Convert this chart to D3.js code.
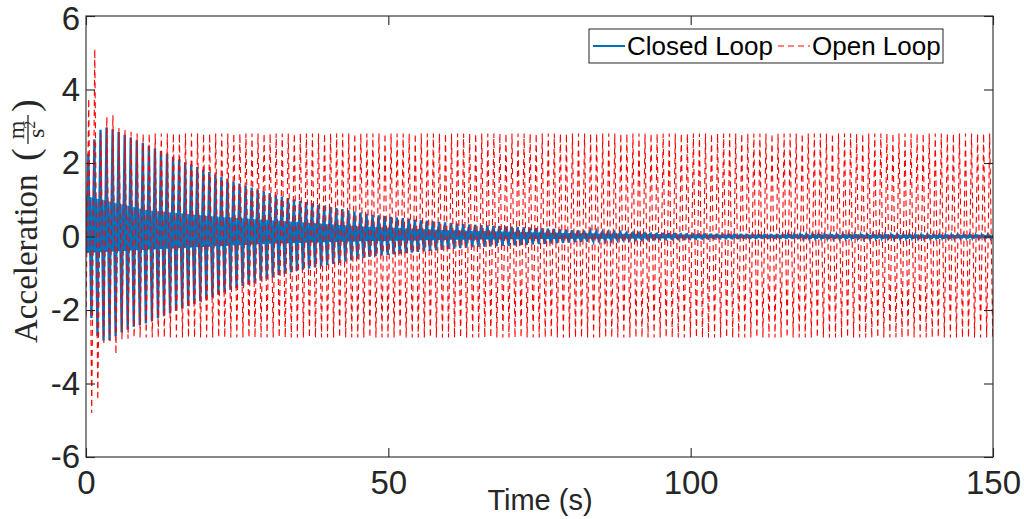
<!DOCTYPE html>
<html>
<head>
<meta charset="utf-8">
<script src="https://cdn.jsdelivr.net/npm/d3@7"></script>
<style>
  body { margin: 0; background: #fff; }
  svg { display: block; }
</style>
</head>
<body>
<svg id="chart" width="1024" height="519"></svg>
<script>
// ---- axis ticks ----
const xTicks = [0, 50, 100, 150];
const yTicks = [-6, -4, -2, 0, 2, 4, 6];
const seriesNames = ["Closed Loop", "Open Loop"];

// ---- closed loop: swing envelope (m/s^2) at sample times (s) ----
const closedEnvTime = [0, 1, 2, 3, 4, 6, 8, 10, 13, 16, 20, 24, 28, 32, 36, 40, 47, 55, 63, 70, 78, 85, 95, 110, 150];
const closedUpper   = [2.1, 2.5, 2.85, 2.98, 2.95, 2.8, 2.65, 2.5, 2.28, 2.05, 1.78, 1.52, 1.3, 1.1, 0.95, 0.82, 0.6, 0.45, 0.33, 0.27, 0.2, 0.13, 0.07, 0.04, 0.03];
const closedLower   = [-1.5, -2.3, -2.75, -2.84, -2.82, -2.6, -2.45, -2.36, -2.15, -1.95, -1.7, -1.45, -1.25, -1.05, -0.9, -0.78, -0.55, -0.42, -0.3, -0.25, -0.18, -0.12, -0.07, -0.04, -0.03];
// inner ripple band of the closed loop response
const closedCoreTime  = [0, 10, 20, 30, 45, 60, 80, 100, 150];
const closedCoreUpper = [1.1, 0.72, 0.56, 0.45, 0.28, 0.17, 0.09, 0.05, 0.03];
const closedCoreLower = [-0.45, -0.36, -0.28, -0.2, -0.13, -0.09, -0.06, -0.04, -0.03];

// ---- open loop: first swings, then the steady limit cycle ----
const openStart   = -2.2;
const openPeaks   = [3.75, 5.1, 2.8, 3.25, 3.3, 2.95, 2.9, 2.85];
const openTroughs = [-4.8, -4.45, -2.9, -2.85, -3.2, -2.8, -2.78];
const openSteady  = [2.8, -2.75];

const period = 1.0;        // oscillation period (s)
const tEnd = 150;

// ---- layout ----
const svg = d3.select("#chart");
const M = { left: 86, right: 993, top: 16, bottom: 457 };

const x = d3.scaleLinear().domain([0, 150]).range([M.left, M.right]);
const y = d3.scaleLinear().domain([-6, 6]).range([M.bottom, M.top]);

// envelopes as piecewise-linear scales
const envHi  = d3.scaleLinear().domain(closedEnvTime).range(closedUpper).clamp(true);
const envLo  = d3.scaleLinear().domain(closedEnvTime).range(closedLower).clamp(true);
const coreHi = d3.scaleLinear().domain(closedCoreTime).range(closedCoreUpper).clamp(true);
const coreLo = d3.scaleLinear().domain(closedCoreTime).range(closedCoreLower).clamp(true);

// closed loop vertices: swing high, ripple, swing low, ripple
const cycleShape = [
  [0.00, envHi],
  [0.16, coreLo],
  [0.24, coreHi],
  [0.32, coreLo],
  [0.50, envLo],
  [0.68, coreHi],
  [0.76, coreLo],
  [0.84, coreHi]
];
const closedPts = [[0, 0]];
for (let t0 = 0.4 - period; t0 <= tEnd; t0 += period) {
  for (const [f, fn] of cycleShape) {
    const t = t0 + f * period;
    if (t > 0 && t <= tEnd + 1) closedPts.push([t, fn(t)]);
  }
}

// open loop vertices: alternating extremes
const openPts = [[0, openStart]];
for (let k = 0; ; k++) {
  const tp = 0.45 + k * period;
  const tt = 0.95 + k * period;
  if (tp > tEnd + 1) break;
  openPts.push([tp, k < openPeaks.length ? openPeaks[k] : openSteady[0]]);
  openPts.push([tt, k < openTroughs.length ? openTroughs[k] : openSteady[1]]);
}

const line = d3.line().x(d => x(d[0])).y(d => y(d[1]));

svg.append("clipPath").attr("id", "plotClip")
  .append("rect")
  .attr("x", M.left).attr("y", M.top)
  .attr("width", M.right - M.left).attr("height", M.bottom - M.top);

const plot = svg.append("g").attr("clip-path", "url(#plotClip)");

plot.append("path")
  .datum(closedPts)
  .attr("d", line)
  .attr("fill", "none")
  .attr("stroke", "#0072BD")
  .attr("stroke-width", 2.4)
  .attr("stroke-linejoin", "miter");

plot.append("path")
  .datum(openPts)
  .attr("d", line)
  .attr("fill", "none")
  .attr("stroke", "#ff0000")
  .attr("stroke-width", 1.1)
  .attr("stroke-dasharray", "6,4");

// ---- axes box and ticks ----
const axisColor = "#262626";
const tickLen = 9;
const axisFont = "'Liberation Sans', Arial, Helvetica, sans-serif";

svg.append("rect")
  .attr("x", M.left).attr("y", M.top)
  .attr("width", M.right - M.left).attr("height", M.bottom - M.top)
  .attr("fill", "none").attr("stroke", axisColor).attr("stroke-width", 1.1);

const bottomAxis = d3.axisBottom(x).tickValues(xTicks).tickSize(-tickLen).tickPadding(14).tickFormat(d3.format("d"));
const topAxis = d3.axisTop(x).tickValues(xTicks).tickSize(-tickLen).tickFormat("");
const leftAxis = d3.axisLeft(y).tickValues(yTicks).tickSize(-tickLen).tickPadding(6).tickFormat(d3.format("d"));
const rightAxis = d3.axisRight(y).tickValues(yTicks).tickSize(-tickLen).tickFormat("");

function styleAxis(g) {
  g.select(".domain").remove();
  g.selectAll(".tick line").attr("stroke", axisColor).attr("stroke-width", 1.1);
  g.selectAll(".tick text")
    .attr("fill", "#262626")
    .style("font-family", axisFont)
    .style("font-size", "33px");
}

svg.append("g").attr("transform", `translate(0,${M.bottom})`).call(bottomAxis).call(styleAxis);
svg.append("g").attr("transform", `translate(0,${M.top})`).call(topAxis).call(styleAxis);
svg.append("g").attr("transform", `translate(${M.left},0)`).call(leftAxis).call(styleAxis);
svg.append("g").attr("transform", `translate(${M.right},0)`).call(rightAxis).call(styleAxis);

// tick labels use a plain hyphen-minus
svg.selectAll(".tick text").text(function () { return this.textContent.replace("\u2212", "-"); });
// keep the top y label inside the page
svg.selectAll(".tick text").filter(function () { return this.textContent === "6"; }).attr("dy", "0.4em");

// ---- x label ----
svg.append("text")
  .attr("x", 540).attr("y", 510)
  .attr("text-anchor", "middle")
  .style("font-family", axisFont)
  .style("font-size", "29px")
  .attr("fill", "#262626")
  .text("Time (s)");

// ---- y label: Acceleration (m / s^2) in a serif face ----
const serif = "'Liberation Serif', 'Times New Roman', serif";
const yl = svg.append("g").attr("transform", "translate(37,343) rotate(-90)")
  .style("font-family", serif).attr("fill", "#262626");
yl.append("text").attr("x", 0).attr("y", 0).style("font-size", "33px").text("Acceleration");
yl.append("text").attr("x", 182).attr("y", 1).style("font-size", "38px").text("(");
yl.append("text").attr("x", 213).attr("y", -13).attr("text-anchor", "middle").style("font-size", "24px").text("m");
yl.append("line").attr("x1", 199).attr("x2", 228).attr("y1", -9).attr("y2", -9)
  .attr("stroke", "#262626").attr("stroke-width", 1.3);
const sText = yl.append("text").attr("x", 205).attr("y", 7).style("font-size", "24px");
sText.append("tspan").text("s");
sText.append("tspan").attr("dy", -9).style("font-size", "16px").text("2");
yl.append("text").attr("x", 231).attr("y", 1).style("font-size", "38px").text(")");

// ---- legend ----
const lg = svg.append("g");
lg.append("rect").attr("x", 589).attr("y", 29).attr("width", 354).attr("height", 34)
  .attr("fill", "#fff").attr("stroke", axisColor).attr("stroke-width", 1);
lg.append("line").attr("x1", 593).attr("x2", 625).attr("y1", 46).attr("y2", 46)
  .attr("stroke", "#0072BD").attr("stroke-width", 2);
lg.append("text").attr("x", 627).attr("y", 55)
  .style("font-family", axisFont).style("font-size", "26px").attr("fill", "#000")
  .text(seriesNames[0]);
lg.append("line").attr("x1", 778).attr("x2", 810).attr("y1", 46).attr("y2", 46)
  .attr("stroke", "#ff0000").attr("stroke-width", 1).attr("stroke-dasharray", "6,4");
lg.append("text").attr("x", 812).attr("y", 55)
  .style("font-family", axisFont).style("font-size", "26px").attr("fill", "#000")
  .text(seriesNames[1]);
</script>
</body>
</html>
